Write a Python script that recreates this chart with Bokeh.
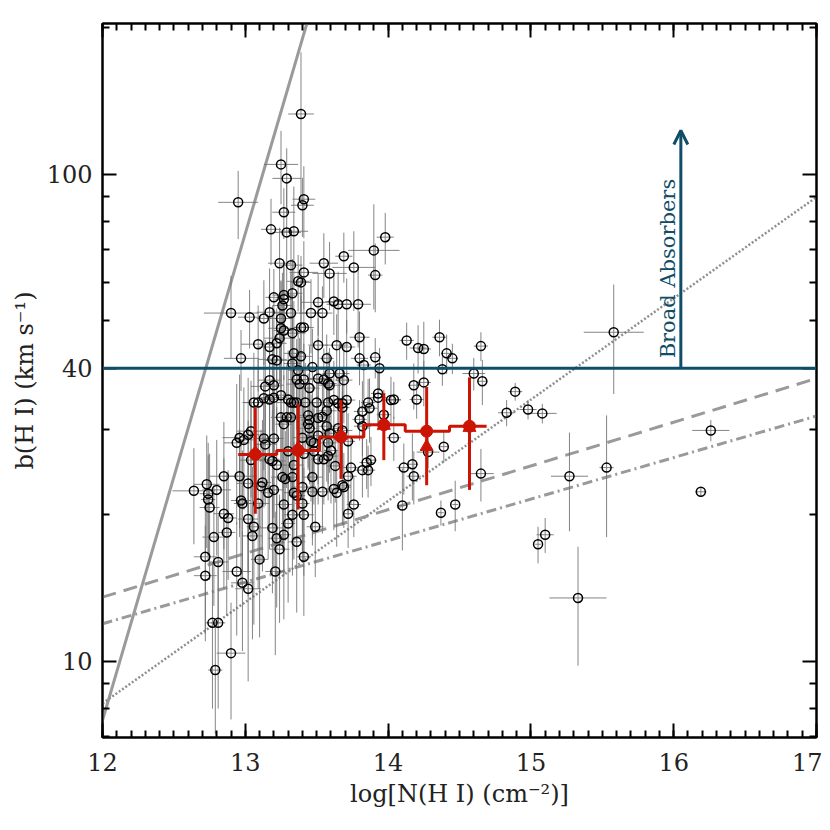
import numpy as np
from bokeh.plotting import figure
from bokeh.models import (Range1d, FixedTicker, LinearAxis, LogAxis, Span, Arrow, OpenHead,
                          BasicTickFormatter, CustomJSTickFormatter, ColumnDataSource)
from bokeh.core.properties import value
from bokeh.embed import file_html
from bokeh.resources import INLINE

# ---------------- data ----------------
logN = [13.39, 13.25, 13.29, 12.95, 13.41, 13.40, 13.27, 13.18, 13.29, 13.34,
        13.98, 13.90, 13.24, 13.32, 13.55, 13.69, 13.76, 13.91, 13.59, 13.41,
        13.37, 13.39, 13.33, 13.20, 13.27, 13.27, 15.58, 13.26, 13.62, 13.65,
        13.71, 13.79, 13.51, 12.90, 13.03, 13.13, 13.17, 13.25, 13.32, 13.46,
        13.54, 13.25, 13.27, 13.39, 13.41, 13.33, 13.24, 13.22, 13.17, 13.09,
        13.51, 13.64, 13.71, 13.80, 14.13, 14.21, 14.25, 14.36, 14.41, 14.45,
        14.65, 12.97, 13.19, 13.22, 13.34, 13.39, 13.33, 13.57, 13.80, 13.83,
        13.91, 13.94, 13.47, 13.37, 14.38, 13.36, 13.41, 13.51, 13.55, 13.59,
        13.66, 13.69, 13.17, 13.14, 13.20, 13.38, 13.45, 13.59, 13.86, 13.93,
        13.93, 14.02, 14.04, 14.18, 14.20, 13.87, 13.97, 13.06, 13.09, 13.13,
        13.17, 13.20, 13.25, 13.32, 13.34, 13.36, 13.42, 13.50, 13.58, 13.62,
        13.65, 13.68, 14.60, 14.66, 14.25, 13.58, 14.89, 13.30, 13.71, 13.57,
        13.68, 13.82, 13.25, 13.29, 13.32, 13.27, 13.44, 13.45, 13.44, 13.45,
        13.51, 13.51, 13.04, 13.02, 12.96, 12.99, 12.94, 13.13, 13.20, 13.14,
        13.40, 13.46, 13.48, 13.04, 13.17, 13.19, 13.22, 13.34, 13.30, 13.51,
        13.48, 13.80, 13.82, 14.04, 14.39, 14.28, 13.88, 13.85, 14.17, 14.11,
        13.74, 13.54, 13.57, 13.59, 13.65, 13.68, 13.72, 13.58, 13.60, 13.58,
        13.41, 13.55, 13.63, 14.83, 14.98, 15.08, 14.18, 14.65, 12.85, 12.96,
        13.02, 12.73, 12.64, 12.80, 12.74, 12.74, 12.75, 12.97, 12.98, 13.09,
        13.12, 13.11, 13.16, 13.20, 13.27, 13.26, 13.28, 13.33, 13.34, 13.36,
        13.40, 13.47, 13.47, 13.40, 12.85, 12.88, 13.02, 13.06, 13.33, 13.41,
        13.30, 13.19, 13.49, 12.78, 12.87, 13.05, 13.22, 13.27, 13.36, 13.24,
        12.72, 12.81, 13.10, 13.41, 13.54, 13.62, 13.64, 13.68, 13.69, 13.72,
        13.76, 13.72, 14.10, 14.37, 14.47, 15.27, 15.53, 15.05, 15.10, 15.33,
        16.19, 16.26, 13.82, 13.86, 12.72, 12.94, 13.21, 12.98, 13.02, 12.77,
        12.81, 12.90, 12.79]

b_HI = [133.0, 104.8, 98.1, 87.6, 88.9, 86.4, 83.6, 77.1, 76.0, 76.4,
        74.3, 69.8, 65.7, 65.1, 65.7, 67.9, 64.4, 62.1, 62.6, 62.9,
        60.3, 60.0, 57.0, 55.9, 56.5, 55.4, 47.4, 53.8, 54.8, 54.1,
        54.1, 54.1, 54.6, 51.9, 50.9, 50.6, 52.1, 50.6, 51.9, 51.9,
        51.9, 48.3, 47.8, 48.5, 48.5, 47.2, 46.1, 45.0, 44.2, 44.8,
        44.6, 44.6, 44.2, 46.3, 45.6, 44.0, 43.8, 46.3, 42.9, 41.9,
        44.4, 41.9, 41.7, 41.5, 42.9, 42.3, 40.9, 41.9, 41.9, 40.6,
        42.1, 40.0, 40.2, 39.6, 39.8, 37.9, 37.9, 38.1, 37.9, 39.0,
        39.0, 37.8, 37.8, 36.7, 36.9, 37.1, 36.4, 36.9, 34.0, 34.8,
        35.5, 34.4, 34.5, 36.9, 34.5, 33.1, 32.1, 34.0, 34.0, 34.7,
        34.5, 34.8, 35.2, 34.0, 34.0, 34.0, 34.0, 34.0, 34.0, 34.4,
        33.9, 33.9, 39.0, 37.6, 37.4, 37.2, 35.8, 34.5, 34.4, 32.7,
        33.2, 32.6, 31.7, 31.7, 31.7, 30.7, 32.0, 31.3, 30.7, 30.1,
        31.6, 29.1, 29.7, 29.2, 28.8, 28.5, 28.1, 28.7, 28.7, 27.9,
        28.8, 28.3, 28.1, 25.9, 26.0, 25.8, 25.3, 25.3, 27.0, 26.0,
        27.0, 31.4, 30.4, 28.8, 27.6, 26.9, 25.9, 25.6, 25.4, 25.0,
        25.0, 31.8, 30.4, 29.4, 30.1, 29.8, 28.3, 28.1, 27.1, 26.4,
        26.7, 26.0, 25.2, 32.4, 32.9, 32.3, 24.0, 24.3, 24.0, 24.0,
        23.2, 23.1, 22.4, 22.5, 22.1, 21.5, 20.7, 21.4, 21.1, 21.1,
        23.3, 22.9, 22.2, 22.5, 21.0, 23.9, 23.7, 23.9, 22.2, 21.9,
        22.8, 22.3, 23.9, 21.1, 20.1, 19.7, 19.6, 18.9, 20.0, 20.0,
        19.2, 18.8, 18.9, 18.0, 18.4, 18.1, 17.9, 18.2, 17.6, 17.0,
        16.4, 16.0, 16.2, 16.4, 22.3, 22.6, 22.2, 23.0, 22.8, 24.0,
        21.0, 20.1, 20.9, 20.2, 21.0, 24.0, 25.0, 17.4, 18.2, 13.5,
        22.3, 29.8, 24.7, 24.7, 15.0, 15.3, 15.3, 14.5, 14.1, 12.0,
        12.0, 10.4, 9.6]

logN_err = [0.09, 0.12, 0.10, 0.14, 0.08, 0.08, 0.08, 0.07, 0.10, 0.10,
            0.06, 0.18, 0.08, 0.08, 0.10, 0.06, 0.15, 0.05, 0.12, 0.10,
            0.08, 0.07, 0.07, 0.06, 0.08, 0.06, 0.21, 0.07, 0.06, 0.08,
            0.07, 0.09, 0.12, 0.19, 0.08, 0.05, 0.09, 0.08, 0.12, 0.08,
            0.07, 0.09, 0.07, 0.06, 0.07, 0.09, 0.11, 0.07, 0.08, 0.12,
            0.07, 0.08, 0.06, 0.07, 0.05, 0.06, 0.05, 0.05, 0.04, 0.04,
            0.05, 0.12, 0.10, 0.08, 0.07, 0.08, 0.06, 0.05, 0.06, 0.05,
            0.04, 0.05, 0.12, 0.07, 0.04, 0.06, 0.07, 0.08, 0.06, 0.05,
            0.07, 0.06, 0.08, 0.10, 0.07, 0.09, 0.07, 0.08, 0.05, 0.06,
            0.05, 0.07, 0.05, 0.04, 0.05, 0.06, 0.05, 0.08, 0.10, 0.07,
            0.06, 0.09, 0.07, 0.10, 0.06, 0.08, 0.07, 0.06, 0.08, 0.06,
            0.07, 0.05, 0.08, 0.03, 0.05, 0.06, 0.05, 0.07, 0.06, 0.07,
            0.05, 0.06, 0.07, 0.06, 0.08, 0.06, 0.07, 0.06, 0.05, 0.07,
            0.06, 0.08, 0.10, 0.08, 0.12, 0.07, 0.09, 0.06, 0.07, 0.08,
            0.07, 0.06, 0.05, 0.08, 0.07, 0.09, 0.06, 0.07, 0.06, 0.05,
            0.06, 0.05, 0.06, 0.05, 0.03, 0.08, 0.04, 0.05, 0.04, 0.05,
            0.06, 0.06, 0.07, 0.05, 0.06, 0.07, 0.05, 0.06, 0.05, 0.07,
            0.06, 0.05, 0.06, 0.06, 0.06, 0.10, 0.05, 0.09, 0.10, 0.12,
            0.08, 0.09, 0.15, 0.10, 0.06, 0.05, 0.07, 0.07, 0.06, 0.08,
            0.06, 0.07, 0.05, 0.07, 0.06, 0.08, 0.06, 0.05, 0.07, 0.06,
            0.08, 0.06, 0.07, 0.05, 0.07, 0.06, 0.07, 0.05, 0.06, 0.07,
            0.05, 0.10, 0.06, 0.08, 0.06, 0.07, 0.06, 0.05, 0.06, 0.07,
            0.08, 0.07, 0.06, 0.05, 0.05, 0.06, 0.05, 0.06, 0.05, 0.06,
            0.05, 0.04, 0.03, 0.02, 0.02, 0.13, 0.05, 0.02, 0.06, 0.20,
            0.04, 0.13, 0.05, 0.05, 0.08, 0.10, 0.07, 0.08, 0.09, 0.05,
            0.05, 0.10, 0.05]

b_err = [45.0, 18.0, 15.0, 14.0, 15.0, 12.0, 10.0, 12.0, 20.0, 18.0,
         9.0, 17.0, 12.0, 12.0, 10.0, 8.0, 12.0, 10.0, 10.0, 10.0,
         8.0, 8.0, 10.0, 8.0, 9.0, 10.0, 12.0, 9.0, 8.0, 9.0,
         7.0, 10.0, 8.0, 10.0, 7.0, 10.0, 12.0, 10.0, 11.0, 9.0,
         7.0, 12.0, 10.0, 12.0, 10.0, 9.0, 9.0, 8.0, 10.0, 9.0,
         6.0, 7.0, 6.0, 6.0, 4.0, 5.0, 6.0, 4.0, 4.0, 3.0,
         3.0, 6.0, 12.0, 10.0, 12.0, 14.0, 10.0, 5.0, 5.0, 6.0,
         4.0, 4.0, 8.0, 9.0, 3.0, 8.0, 7.0, 8.0, 6.0, 5.0,
         6.0, 7.0, 10.0, 9.0, 11.0, 9.0, 8.0, 6.0, 4.0, 5.0,
         5.0, 4.0, 3.0, 4.0, 3.0, 5.0, 4.0, 9.0, 8.0, 10.0,
         8.0, 9.0, 10.0, 12.0, 8.0, 10.0, 7.0, 6.0, 6.0, 7.0,
         5.0, 6.0, 3.0, 4.0, 4.0, 6.0, 1.5, 9.0, 5.0, 6.0,
         5.0, 5.0, 8.0, 9.0, 10.0, 8.0, 7.0, 8.0, 6.0, 7.0,
         6.0, 6.0, 8.0, 9.0, 10.0, 8.0, 9.0, 8.0, 9.0, 7.0,
         8.0, 7.0, 6.0, 8.0, 9.0, 7.0, 8.0, 6.0, 7.0, 5.0,
         6.0, 3.0, 4.0, 3.0, 2.0, 2.0, 3.0, 3.0, 4.0, 3.0,
         4.0, 6.0, 7.0, 5.0, 5.0, 6.0, 4.0, 5.0, 6.0, 5.0,
         7.0, 5.0, 4.0, 2.0, 1.5, 1.5, 3.0, 3.0, 7.0, 6.0,
         8.0, 6.0, 5.0, 6.0, 6.0, 5.0, 6.0, 7.0, 6.0, 7.0,
         8.0, 7.0, 6.0, 7.0, 6.0, 7.0, 6.0, 7.0, 6.0, 5.0,
         6.0, 5.0, 6.0, 5.0, 6.0, 5.0, 6.0, 7.0, 5.0, 5.0,
         6.0, 5.0, 4.0, 5.0, 6.0, 7.0, 5.0, 6.0, 5.0, 5.0,
         5.0, 4.0, 5.0, 4.0, 4.0, 4.0, 5.0, 4.0, 4.0, 4.0,
         3.0, 3.0, 4.0, 1.2, 2.5, 5.5, 7.0, 1.5, 1.5, 3.7,
         0.5, 1.5, 3.0, 3.0, 4.0, 4.0, 5.0, 4.0, 5.0, 4.0,
         4.0, 2.8, 2.5]

# binned (red) statistics
bin_center = [13.07, 13.37, 13.67, 13.97, 14.27, 14.57]
bin_edges = [12.95, 13.22, 13.52, 13.83, 14.12, 14.43, 14.69]
bin_mean = [26.6, 27.1, 28.9, 30.6, 29.7, 30.4]
bin_median = [26.8, 27.4, 29.1, 30.5, 27.6, 30.2]
bin_lo = [20.1, 20.5, 23.7, 25.9, 23.0, 22.5]
bin_hi = [33.2, 33.8, 34.4, 35.5, 36.6, 38.3]

# model lines (end points)
solid_x, solid_b = [12.0, 13.45], [7.57, 213.0]
dash_x, dash_b = [12.0, 17.0], [13.55, 38.1]
dashdot_x, dashdot_b = [12.0, 17.0], [11.95, 31.9]
dot_x, dot_b = [12.0, 17.0], [8.2, 89.8]

b_broad = 40.0
arrow_x, arrow_top = 16.05, 123.0

x_major_ticks = [12, 13, 14, 15, 16, 17]
y_major_ticks = [10, 40, 100]
y_minor_ticks = [7, 8, 9, 20, 30, 50, 60, 70, 80, 90, 200]

# ---------------- figure ----------------
TEAL = "#0f4d69"
RED = "#cc1405"
GRAY = "#9a9a9a"
FONT = "DejaVu Serif"

p = figure(frame_width=714, frame_height=714,
           x_range=Range1d(12, 17), y_range=Range1d(6.98, 204),
           y_axis_type="log", output_backend="svg", toolbar_location=None,
           min_border_left=102, min_border_right=6, min_border_top=23, min_border_bottom=82)
p.grid.visible = False
p.outline_line_color = "black"
p.outline_line_width = 2
p.background_fill_color = "white"
p.border_fill_color = "white"

x_minor = [round(v, 1) for v in np.arange(12.0, 17.01, 0.1)]
xticker = FixedTicker(ticks=x_major_ticks, minor_ticks=x_minor)
yticker = FixedTicker(ticks=y_major_ticks, minor_ticks=y_minor_ticks)


def style_axis(ax):
    ax.axis_line_width = 2
    ax.major_tick_in = 14
    ax.major_tick_out = 0
    ax.minor_tick_in = 7
    ax.minor_tick_out = 0
    ax.major_tick_line_width = 2
    ax.minor_tick_line_width = 2
    ax.major_label_text_font = FONT
    ax.major_label_text_font_size = "24px"
    ax.major_label_text_color = "#222222"
    ax.axis_label_text_font = FONT
    ax.axis_label_text_font_size = "24px"
    ax.axis_label_text_font_style = "normal"
    ax.axis_label_text_color = "#222222"


xa = p.xaxis[0]
xa.ticker = xticker
xa.formatter = BasicTickFormatter()
xa.axis_label = "log[N(H I) (cm\u207b\u00b2)]"
style_axis(xa)
xa.major_label_standoff = 15
xa.axis_label_standoff = 6

ya = p.yaxis[0]
ya.ticker = yticker
ya.formatter = BasicTickFormatter()
ya.axis_label = "b(H I) (km s\u207b\u00b9)"
style_axis(ya)
ya.major_label_standoff = 10
ya.axis_label_standoff = 5

blank = CustomJSTickFormatter(code="return ''")
top = LinearAxis(ticker=xticker, formatter=blank)
style_axis(top)
top.major_label_standoff = 0
p.add_layout(top, "above")
right = LogAxis(ticker=yticker, formatter=blank)
style_axis(right)
right.major_label_standoff = 0
p.add_layout(right, "right")

# model lines
p.line(solid_x, solid_b, line_color=GRAY, line_width=3)
p.line(dash_x, dash_b, line_color=GRAY, line_width=3, line_dash="14 8")
p.line(dashdot_x, dashdot_b, line_color=GRAY, line_width=3, line_dash="10 4 2 4")
p.line(dot_x, dot_b, line_color="#8f8f8f", line_width=2.5, line_dash="2 2")

# error bars
lx = np.array(logN); bb = np.array(b_HI); ex = np.array(logN_err); eb = np.array(b_err)
src = ColumnDataSource(dict(x=lx, b=bb, x0=lx - ex, x1=lx + ex, b0=bb - eb, b1=bb + eb))
p.segment(x0="x0", y0="b", x1="x1", y1="b", source=src, line_color="#707070", line_width=1, line_alpha=0.85)
p.segment(x0="x", y0="b0", x1="x", y1="b1", source=src, line_color="#707070", line_width=1, line_alpha=0.85)
p.scatter(x="x", y="b", source=src, marker="circle", size=9, fill_color=None,
          line_color="black", line_width=1.5)

# binned statistics
p.step(bin_edges, bin_mean + [bin_mean[-1]], mode="after", line_color=RED, line_width=3)
p.segment(x0=bin_center, y0=bin_lo, x1=bin_center, y1=bin_hi, line_color=RED, line_width=3)
p.scatter(bin_center, bin_median, marker="triangle", size=13, fill_color=RED, line_color=RED)
p.scatter(bin_center, bin_mean, marker="circle", size=12, fill_color=RED, line_color=RED)

# broad absorber threshold
p.add_layout(Span(location=b_broad, dimension="width", line_color=TEAL, line_width=3))
p.add_layout(Arrow(end=OpenHead(size=14, line_width=3, line_color=TEAL),
                   x_start=arrow_x, y_start=b_broad, x_end=arrow_x, y_end=arrow_top,
                   line_color=TEAL, line_width=3))
p.text(x=[15.96], y=[41.9], text=["Broad Absorbers"], angle=np.pi / 2,
       text_font=value(FONT), text_font_size="21px", text_color=TEAL,
       text_align="left", text_baseline="middle")

open("out.html", "w").write(file_html(p, INLINE))
